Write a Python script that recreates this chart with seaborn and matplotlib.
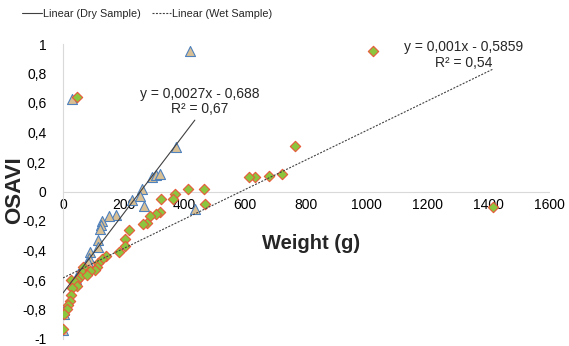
import numpy as np
import pandas as pd
import matplotlib
matplotlib.use("Agg")
import matplotlib.pyplot as plt
import seaborn as sns
from matplotlib.ticker import FuncFormatter

# ---- data ----
dry_weight = [30, 418, 372, 292, 305, 319, 261, 253, 228, 266, 434, 176, 150, 127,
              124, 122, 116, 114, 89, 84, 83, 70, 59, 50, 42, 3, 2, 1]
dry_osavi = [0.63, 0.95, 0.305, 0.10, 0.11, 0.12, 0.015, -0.03, -0.055, -0.095, -0.12,
             -0.16, -0.165, -0.20, -0.23, -0.255, -0.33, -0.375, -0.41, -0.45, -0.48,
             -0.51, -0.53, -0.56, -0.59, -0.80, -0.83, -0.94]

wet_weight = [45, 1019, 763, 720, 678, 632, 612, 1414, 413, 465, 369, 363, 323, 467,
              318, 307, 286, 276, 264, 216, 204, 204, 183, 140, 127, 116, 111, 105,
              67, 61, 56, 45, 25, 40, 45, 30, 26, 23, 18, 12, 4, 1, 88, 80]
wet_osavi = [0.64, 0.95, 0.31, 0.12, 0.105, 0.10, 0.10, -0.105, 0.016, 0.016, -0.018,
             -0.05, -0.052, -0.088, -0.14, -0.15, -0.165, -0.215, -0.22, -0.26, -0.325,
             -0.372, -0.41, -0.435, -0.46, -0.485, -0.51, -0.535, -0.515, -0.547, -0.58,
             -0.60, -0.60, -0.615, -0.64, -0.655, -0.705, -0.74, -0.77, -0.795, -0.83,
             -0.935, -0.54, -0.565]

# trend line coefficients (as printed on the chart)
dry_fit = (0.0027, -0.688)
wet_fit = (0.001, -0.5859)
dry_eq = "y = 0,0027x - 0,688\nR² = 0,67"
wet_eq = "y = 0,001x - 0,5859\nR² = 0,54"

x_ticks = [0, 200, 400, 600, 800, 1000, 1200, 1400, 1600]
y_ticks = [-1, -0.8, -0.6, -0.4, -0.2, 0, 0.2, 0.4, 0.6, 0.8, 1]

# ---- plotting ----
sns.set_style("white")
plt.rcParams["font.family"] = ["Liberation Sans", "DejaVu Sans"]

fig = plt.figure(figsize=(5.69, 3.46), dpi=100)
ax = fig.add_axes([63 / 569, 7 / 346, 486 / 569, 295 / 346])

dry_df = pd.DataFrame({"Weight": dry_weight, "OSAVI": dry_osavi})
wet_df = pd.DataFrame({"Weight": wet_weight, "OSAVI": wet_osavi})

dry_line = pd.DataFrame({"Weight": [0, max(dry_weight)]})
dry_line["OSAVI"] = dry_fit[0] * dry_line["Weight"] + dry_fit[1]
wet_line = pd.DataFrame({"Weight": [0, max(wet_weight)]})
wet_line["OSAVI"] = wet_fit[0] * wet_line["Weight"] + wet_fit[1]

sns.scatterplot(data=dry_df, x="Weight", y="OSAVI", marker="^", s=52,
                color="#d9bf94", edgecolor="#4f81bd", linewidth=0.8, ax=ax, zorder=3)
sns.scatterplot(data=wet_df, x="Weight", y="OSAVI", marker="D", s=28,
                color="#8cc63e", edgecolor="#e8593a", linewidth=0.8, ax=ax, zorder=4)

sns.lineplot(data=dry_line, x="Weight", y="OSAVI", color="#404040", lw=0.8,
             ax=ax, label="Linear (Dry Sample)", zorder=5)
sns.lineplot(data=wet_line, x="Weight", y="OSAVI", color="#404040", lw=0.8,
             ax=ax, label="Linear (Wet Sample)", zorder=5)
ax.lines[-1].set_dashes([1.8, 1.3])

ax.set_xlim(0, 1600)
ax.set_ylim(-1, 1)
ax.set_xticks(x_ticks)
ax.set_yticks(y_ticks)

def comma_fmt(v, pos):
    s = f"{v:g}".replace(".", ",")
    return "0" if s in ("-0",) else s

ax.yaxis.set_major_formatter(FuncFormatter(comma_fmt))
ax.xaxis.set_major_formatter(FuncFormatter(lambda v, p: f"{int(v)}"))

for side in ["top", "right"]:
    ax.spines[side].set_visible(False)
ax.spines["bottom"].set_position(("data", 0))
ax.spines["left"].set_position(("data", 0))
for side in ["bottom", "left"]:
    ax.spines[side].set_color("#d9d9d9")
    ax.spines[side].set_linewidth(0.8)

ax.tick_params(axis="y", direction="out", length=4, color="#bfbfbf", width=0.8,
               labelsize=10, pad=8, labelcolor="black")
ax.tick_params(axis="x", direction="in", length=4, color="#d9d9d9", width=0.8,
               labelsize=10, pad=5, labelcolor="black")

ax.set_xlabel("Weight (g)", fontsize=14.5, fontweight="bold")
ax.xaxis.label.set_va("center")
ax.xaxis.set_label_coords(0.51, 0.325)
ax.set_ylabel("OSAVI", fontsize=16, fontweight="bold")
ax.yaxis.label.set_va("center")
ax.yaxis.set_label_coords(-0.099, 0.505)

ax.text(451, 0.61, dry_eq, ha="center", va="center", multialignment="center",
        fontsize=10, linespacing=1.15)
ax.text(1320, 0.924, wet_eq, ha="center", va="center", multialignment="center",
        fontsize=10, linespacing=1.15)

handles, labels = ax.get_legend_handles_labels()
ax.legend_.remove() if ax.legend_ else None
fig.legend(handles[-2:], labels[-2:], loc="center left", bbox_to_anchor=(18 / 569, 1 - 14 / 346),
           ncol=2, frameon=False, fontsize=7.8, handlelength=1.8, handletextpad=0.1,
           columnspacing=1.0, borderaxespad=0)

fig.savefig("out.png", dpi=100)
